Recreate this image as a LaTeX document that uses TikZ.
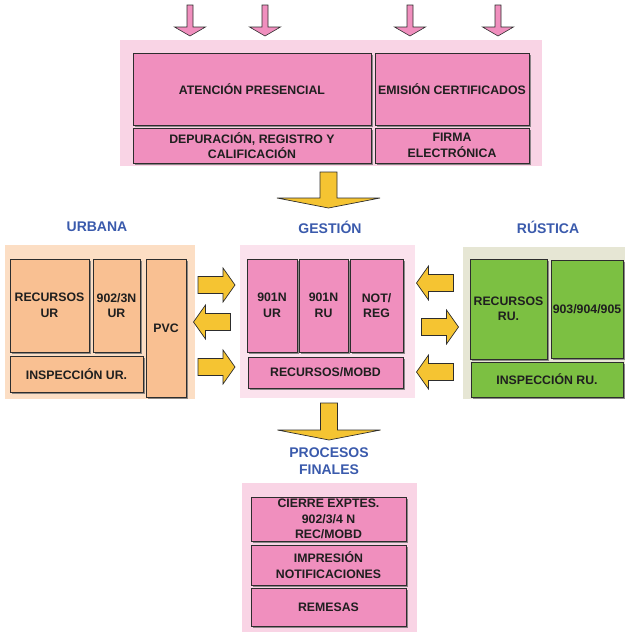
\documentclass[tikz,border=0pt]{standalone}
\usepackage{fontspec}
\setmainfont{Liberation Sans}
\usetikzlibrary{shadows}
\definecolor{boxpink}{RGB}{240,143,190}
\definecolor{bgpink}{RGB}{249,212,229}
\definecolor{bgpinklt}{RGB}{251,226,237}
\definecolor{boxpeach}{RGB}{249,192,146}
\definecolor{bgpeach}{RGB}{252,222,196}
\definecolor{boxgreen}{RGB}{124,192,66}
\definecolor{bgbeige}{RGB}{230,230,212}
\definecolor{arrowyel}{RGB}{245,196,50}
\definecolor{titleblue}{RGB}{58,90,172}
\definecolor{edge}{RGB}{45,45,45}
\tikzset{
  box/.style={draw=edge, line width=0.9pt, inner sep=0pt, outer sep=0pt,
    text=black!88, align=center,
    font=\fontsize{12.3}{15.5}\selectfont\bfseries,
    drop shadow={shadow xshift=1.6pt, shadow yshift=-1.6pt, fill=black!55, opacity=0.8}},
  pinkbox/.style={box, fill=boxpink},
  peachbox/.style={box, fill=boxpeach},
  greenbox/.style={box, fill=boxgreen},
  title/.style={text=titleblue, align=center, font=\fontsize{14}{16.5}\selectfont\bfseries},
  pics/yarrow/.style={code={
    \draw[draw=edge, line width=0.7pt, fill=arrowyel, line join=miter]
      (-18.5,-8.5) -- (6.5,-8.5) -- (6.5,-17) -- (18.5,0) -- (6.5,17)
      -- (6.5,8.5) -- (-18.5,8.5) -- cycle;}},
  pics/pinkdown/.style={code={
    \draw[draw=edge, line width=0.6pt, fill=boxpink, line join=miter]
      (-3,-31) -- (-3,-9) -- (-15.5,-9) -- (0,0) -- (15.5,-9)
      -- (3,-9) -- (3,-31) -- cycle;}},
  pics/bigdown/.style={code={
    \draw[draw=edge, line width=0.7pt, fill=arrowyel, line join=miter]
      (-8.5,-#1) -- (-8.5,-10) -- (-51.5,-10) -- (0,0) -- (51.5,-10)
      -- (8.5,-10) -- (8.5,-#1) -- cycle;}}
}
\begin{document}
\begin{tikzpicture}[x=1pt, y=-1pt]
\useasboundingbox (0,0) rectangle (625,632);

% ---- entry arrows
\pic at (190,36) {pinkdown};
\pic at (265,36) {pinkdown};
\pic at (410,36) {pinkdown};
\pic at (498,36) {pinkdown};

% ---- reception panel
\fill[bgpink] (120,40) rectangle (542,166);
\node[pinkbox, minimum width=238pt, minimum height=72pt] (aten) at (252,89) {ATENCIÓN PRESENCIAL};
\node[pinkbox, minimum width=154pt, minimum height=72pt] (emis) at (452,89) {EMISIÓN CERTIFICADOS};
\node[pinkbox, minimum width=238pt, minimum height=35pt] (depu) at (252,145.5) {DEPURACIÓN, REGISTRO Y\\CALIFICACIÓN};
\node[pinkbox, minimum width=154pt, minimum height=35pt] (firma) at (452,145.5) {FIRMA\\ELECTRÓNICA};

\pic at (328.5,208) {bigdown=36};

% ---- column titles
\node[title] (turb) at (97,227) {URBANA};
\node[title] (tges) at (330,227) {GESTIÓN};
\node[title] (trus) at (548,227) {RÚSTICA};

% ---- urbana
\fill[bgpeach] (5,245) rectangle (195,399);
\node[peachbox, minimum width=79pt, minimum height=93pt] (recur) at (49.5,305.5) {RECURSOS\\UR};
\node[peachbox, minimum width=47pt, minimum height=93pt] (n902) at (116.5,305.5) {902/3N\\UR};
\node[peachbox, minimum width=40pt, minimum height=138pt] (pvc) at (166,328) {PVC};
\node[peachbox, minimum width=133pt, minimum height=36pt] (inspur) at (76.5,374) {INSPECCIÓN UR.};

% ---- gestion
\fill[bgpinklt] (240,245) rectangle (415,398);
\node[pinkbox, minimum width=50pt, minimum height=93pt] (g901ur) at (272,305.5) {901N\\UR};
\node[pinkbox, minimum width=49pt, minimum height=93pt] (g901ru) at (323.5,305.5) {901N\\RU};
\node[pinkbox, minimum width=53pt, minimum height=93pt] (notreg) at (376.5,305.5) {NOT/\\REG};
\node[pinkbox, minimum width=155pt, minimum height=31pt] (recmobd) at (325.5,372.5) {RECURSOS/MOBD};

% ---- rustica
\fill[bgbeige] (463,247) rectangle (625,399);
\node[greenbox, minimum width=77pt, minimum height=100pt] (recru) at (508.5,309) {RECURSOS\\RU.};
\node[greenbox, minimum width=72pt, minimum height=98pt] (r903) at (587,309) {903/904/905};
\node[greenbox, minimum width=152pt, minimum height=35pt] (inspru) at (547,379.5) {INSPECCIÓN RU.};

% ---- exchange arrows
\pic at (216.5,285) {yarrow};
\pic[xscale=-1] at (212,322) {yarrow};
\pic at (216.5,367) {yarrow};
\pic[xscale=-1] at (435,283) {yarrow};
\pic at (440,327) {yarrow};
\pic[xscale=-1] at (435,372) {yarrow};

\pic at (329,440) {bigdown=37};

% ---- final processes
\node[title] (tfin) at (329,461) {PROCESOS\\FINALES};
\fill[bgpink] (242,483) rectangle (417,632);
\node[pinkbox, minimum width=155pt, minimum height=44pt] (cierre) at (328.5,519) {CIERRE EXPTES.\\902/3/4 N\\REC/MOBD};
\node[pinkbox, minimum width=155pt, minimum height=40pt] (impr) at (328.5,565) {IMPRESIÓN\\NOTIFICACIONES};
\node[pinkbox, minimum width=155pt, minimum height=38pt] (remesas) at (328.5,607) {REMESAS};
\end{tikzpicture}
\end{document}
